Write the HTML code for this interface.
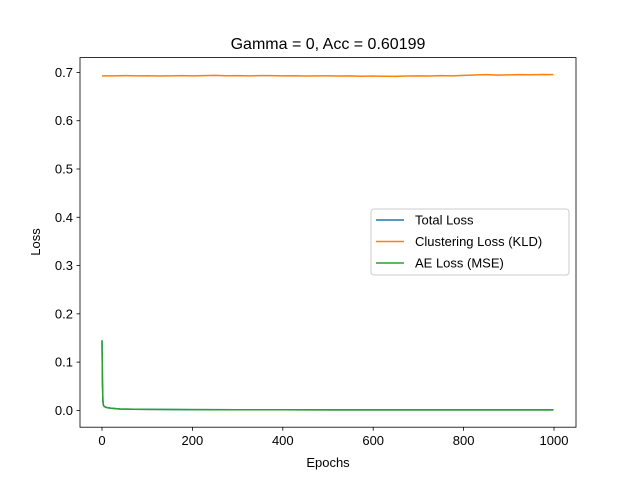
<!DOCTYPE html>
<html><head><meta charset="utf-8"><style>
body{margin:0;background:#fff;}
svg{display:block;font-family:"Liberation Sans","DejaVu Sans",sans-serif;}
</style></head><body>
<svg id="chart" width="640" height="480">
<rect width="640" height="480" fill="#fff"/>
<text x="328" y="49" font-size="16" text-anchor="middle">Gamma = 0, Acc = 0.60199</text>
<g id="plot"></g>
<rect x="80" y="57.6" width="496" height="369.6" fill="none" stroke="#000" stroke-width="0.8"/>
<g id="xt"></g><g id="yt"></g>
<text x="328" y="467" font-size="13" text-anchor="middle">Epochs</text>
<text transform="translate(40,242) rotate(-90)" font-size="13" text-anchor="middle">Loss</text>
<g>
<rect x="371" y="209" width="198" height="66" rx="3" fill="#fff" fill-opacity="0.8" stroke="#ccc"/>
<g><line x1="376" y1="220" x2="404" y2="220" stroke="#1f77b4" stroke-width="1.5"/><text x="415" y="224.5" font-size="13">Total Loss</text></g>
<g><line x1="376" y1="241.5" x2="404" y2="241.5" stroke="#ff7f0e" stroke-width="1.5"/><text x="415" y="246" font-size="13">Clustering Loss (KLD)</text></g>
<g><line x1="376" y1="263" x2="404" y2="263" stroke="#2ca02c" stroke-width="1.5"/><text x="415" y="267.5" font-size="13">AE Loss (MSE)</text></g>
</g>
</svg>
<script>
const xTicks=[0,200,400,600,800,1000];
const yTicks=[0.0,0.1,0.2,0.3,0.4,0.5,0.6,0.7];
const kldEpochs=[0,25,50,75,100,125,150,175,200,225,250,275,300,325,350,375,400,425,450,475,500,525,550,575,600,625,650,675,700,725,750,775,800,825,850,875,900,925,950,975,999];
const kldValues=[0.693,0.693,0.6935,0.693,0.6932,0.6925,0.693,0.6933,0.693,0.6935,0.6938,0.6932,0.6935,0.693,0.6933,0.6935,0.693,0.6932,0.6925,0.693,0.6928,0.6925,0.693,0.6922,0.6925,0.692,0.6918,0.6925,0.6928,0.6925,0.6935,0.693,0.6938,0.6948,0.6955,0.6945,0.695,0.6955,0.6952,0.6958,0.6955];
const mseEpochs=[0,1,2,3,5,10,20,40,70,100,150,200,300,400,500,600,700,800,900,999];
const mseValues=[0.145,0.06,0.02,0.011,0.008,0.006,0.0045,0.003,0.0025,0.002,0.0018,0.0016,0.0014,0.0013,0.0012,0.0012,0.0011,0.0011,0.0011,0.001];
const totalValues=mseValues;
const X=v=>102+v*0.452, Y=v=>410.4-v*482.8;
const ns="http://www.w3.org/2000/svg";
const plot=document.getElementById('plot');
function line(xs,ys,c,name){const p=document.createElementNS(ns,'polyline');
p.setAttribute('points',xs.map((x,i)=>X(x)+','+Y(ys[i])).join(' '));
p.setAttribute('fill','none');p.setAttribute('stroke',c);p.setAttribute('stroke-width','1.5');


plot.appendChild(p);}
line(mseEpochs,totalValues,'#1f77b4','total-loss-line');
line(kldEpochs,kldValues,'#ff7f0e','kld-loss-line');
line(mseEpochs,mseValues,'#2ca02c','mse-loss-line');
const xt=document.getElementById('xt'),yt=document.getElementById('yt');
xTicks.forEach(v=>{const g=document.createElementNS(ns,'g');


g.innerHTML=`<line x1="${X(v)}" y1="427.2" x2="${X(v)}" y2="430.7" stroke="#000" stroke-width="0.8"/><text x="${X(v)}" y="445" font-size="13" text-anchor="middle">${v}</text>`;xt.appendChild(g);});
yTicks.forEach(v=>{const g=document.createElementNS(ns,'g');


g.innerHTML=`<line x1="76.5" y1="${Y(v)}" x2="80" y2="${Y(v)}" stroke="#000" stroke-width="0.8"/><text x="73" y="${Y(v)+4.5}" font-size="13" text-anchor="end">${v.toFixed(1)}</text>`;yt.appendChild(g);});
</script>
</body></html>
